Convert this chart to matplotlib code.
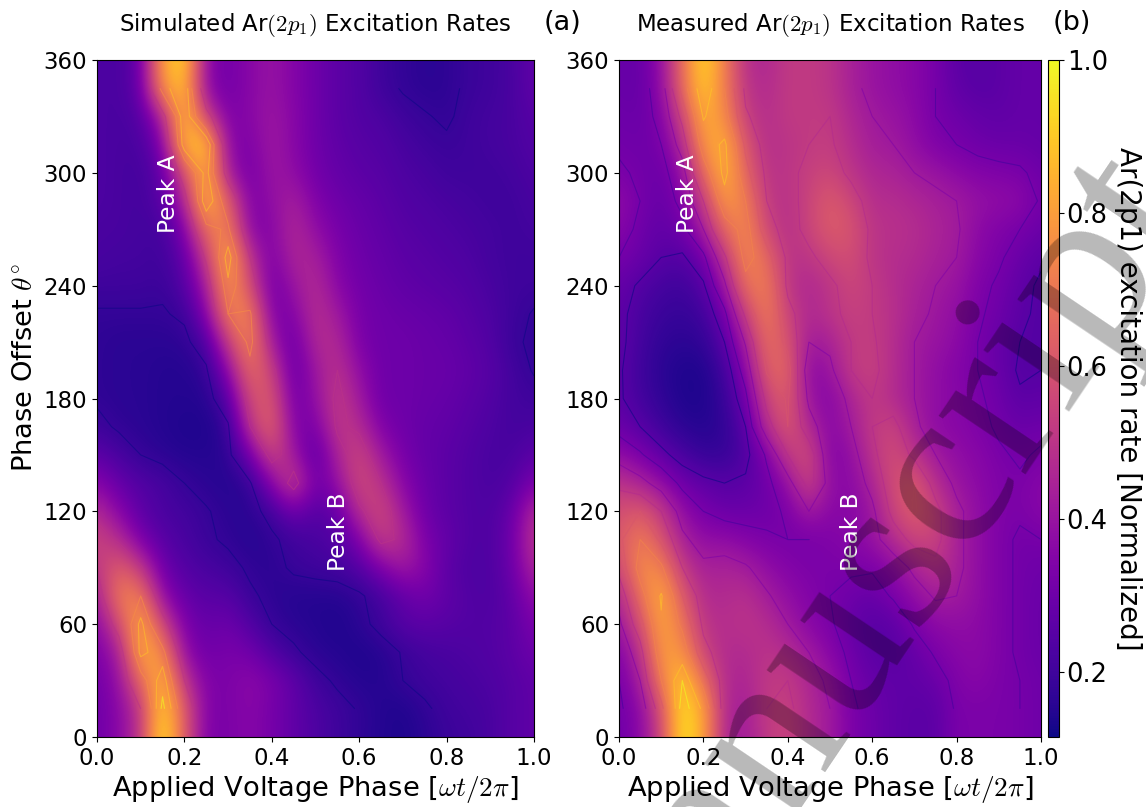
import numpy as np
import matplotlib
matplotlib.use("Agg")
import matplotlib.pyplot as plt

plt.rcParams['mathtext.fontset'] = 'cm'
plt.rcParams['font.family'] = 'DejaVu Sans'

phase = [0, .05, .1, .15, .2, .25, .3, .35, .4, .45, .5, .55, .6, .65, .7, .75, .8, .85, .9, .95, 1]
theta = list(range(0, 361, 15))

sim = [
 [.30,.36,.50,1.0,.62,.33,.33,.36,.32,.27,.23,.20,.17,.15,.14,.16,.19,.20,.22,.25,.27],
 [.30,.36,.50,.95,.62,.34,.33,.36,.32,.27,.23,.20,.175,.15,.14,.17,.20,.21,.22,.25,.27],
 [.31,.38,.66,.88,.50,.34,.33,.37,.33,.27,.20,.17,.15,.15,.18,.20,.21,.22,.23,.25,.27],
 [.33,.42,.85,.76,.38,.30,.33,.31,.24,.19,.16,.15,.14,.15,.185,.21,.22,.23,.24,.26,.30],
 [.36,.56,.85,.56,.33,.28,.30,.24,.18,.16,.15,.14,.16,.20,.25,.26,.25,.24,.24,.26,.33],
 [.42,.72,.72,.38,.28,.25,.25,.19,.165,.15,.15,.15,.17,.21,.27,.31,.27,.24,.23,.27,.38],
 [.50,.64,.52,.30,.24,.22,.20,.17,.16,.19,.20,.21,.24,.33,.42,.36,.26,.23,.23,.29,.46],
 [.55,.48,.33,.25,.22,.19,.17,.15,.17,.20,.22,.24,.33,.53,.48,.33,.28,.24,.23,.30,.50],
 [.47,.36,.26,.22,.21,.185,.16,.16,.20,.30,.24,.28,.48,.57,.42,.30,.26,.24,.23,.28,.47],
 [.36,.28,.24,.22,.18,.16,.15,.17,.35,.56,.30,.38,.57,.50,.36,.29,.26,.24,.22,.24,.33],
 [.26,.22,.18,.16,.15,.15,.16,.30,.56,.42,.24,.45,.56,.42,.32,.28,.26,.24,.22,.22,.26],
 [.20,.17,.16,.15,.14,.14,.17,.50,.66,.34,.32,.52,.48,.34,.30,.28,.27,.25,.23,.21,.22],
 [.17,.16,.16,.15,.15,.15,.24,.58,.62,.30,.38,.53,.42,.30,.30,.29,.28,.26,.24,.21,.20],
 [.17,.16,.16,.15,.15,.17,.36,.68,.55,.27,.41,.50,.38,.30,.30,.29,.29,.27,.25,.21,.175],
 [.17,.16,.16,.16,.165,.22,.52,.76,.42,.28,.47,.47,.33,.30,.30,.29,.28,.26,.24,.19,.17],
 [.175,.175,.175,.175,.19,.34,.72,.74,.33,.34,.49,.42,.32,.30,.29,.28,.27,.25,.23,.20,.175],
 [.20,.20,.20,.19,.24,.42,.80,.58,.30,.40,.48,.36,.31,.29,.27,.26,.25,.24,.22,.20,.20],
 [.22,.21,.21,.20,.27,.52,.87,.50,.32,.46,.44,.34,.30,.28,.26,.25,.24,.23,.21,.20,.20],
 [.22,.22,.21,.21,.33,.68,.74,.35,.35,.47,.38,.32,.29,.27,.25,.24,.23,.22,.21,.20,.21],
 [.23,.22,.21,.25,.44,.90,.64,.33,.38,.44,.34,.30,.28,.26,.24,.23,.22,.21,.20,.20,.22],
 [.23,.22,.21,.27,.58,.86,.42,.31,.41,.38,.31,.28,.26,.25,.23,.22,.20,.20,.20,.21,.23],
 [.23,.22,.22,.33,.88,.92,.36,.33,.42,.36,.30,.27,.25,.24,.22,.20,.19,.20,.21,.22,.24],
 [.23,.22,.24,.44,.90,.55,.33,.36,.41,.36,.30,.26,.24,.23,.20,.185,.17,.20,.21,.22,.25],
 [.23,.22,.28,.78,.90,.36,.31,.36,.40,.35,.30,.26,.24,.20,.175,.16,.165,.19,.20,.22,.27],
 [.23,.22,.28,.82,.95,.36,.31,.36,.40,.35,.30,.26,.24,.20,.175,.16,.165,.19,.20,.22,.27],
]

meas = [
 [.30,.36,.55,.98,.82,.45,.42,.52,.55,.47,.42,.33,.30,.27,.26,.26,.33,.33,.33,.32,.30],
 [.31,.36,.58,.97,.82,.46,.43,.52,.54,.47,.42,.33,.30,.27,.26,.26,.33,.33,.33,.32,.30],
 [.32,.42,.72,.92,.68,.47,.45,.52,.52,.46,.40,.32,.28,.27,.27,.29,.34,.36,.33,.32,.30],
 [.34,.48,.80,.78,.55,.47,.47,.50,.48,.42,.36,.30,.26,.25,.28,.33,.36,.37,.34,.31,.29],
 [.40,.58,.83,.70,.50,.48,.50,.48,.42,.36,.33,.28,.25,.26,.33,.37,.38,.37,.34,.31,.29],
 [.45,.68,.85,.62,.47,.47,.49,.43,.38,.35,.32,.30,.28,.33,.38,.43,.42,.38,.34,.31,.29],
 [.55,.76,.74,.52,.44,.45,.43,.38,.35,.33,.33,.33,.33,.37,.44,.50,.44,.38,.34,.31,.30],
 [.60,.72,.60,.44,.38,.38,.35,.33,.32,.32,.34,.36,.39,.47,.55,.55,.44,.38,.34,.31,.32],
 [.58,.62,.52,.38,.32,.29,.29,.30,.33,.42,.36,.36,.40,.55,.63,.55,.44,.38,.34,.33,.36],
 [.50,.45,.38,.30,.27,.25,.26,.30,.38,.56,.38,.36,.45,.58,.62,.48,.40,.37,.34,.33,.36],
 [.38,.33,.27,.22,.18,.18,.23,.33,.52,.58,.34,.38,.50,.58,.50,.42,.38,.36,.33,.31,.33],
 [.29,.25,.20,.16,.15,.17,.25,.48,.62,.46,.36,.42,.52,.55,.44,.37,.36,.34,.31,.29,.30],
 [.26,.21,.17,.14,.14,.18,.30,.55,.63,.40,.35,.45,.52,.47,.42,.38,.36,.33,.30,.26,.27],
 [.26,.20,.16,.14,.14,.20,.36,.63,.66,.36,.40,.52,.54,.48,.42,.38,.35,.32,.29,.24,.25],
 [.27,.21,.17,.16,.17,.25,.43,.68,.60,.42,.44,.52,.53,.48,.42,.40,.37,.32,.28,.25,.24],
 [.27,.22,.19,.18,.20,.30,.54,.72,.55,.46,.50,.54,.52,.49,.44,.41,.38,.33,.30,.26,.24],
 [.28,.24,.21,.20,.24,.40,.68,.72,.50,.46,.50,.56,.52,.48,.45,.42,.40,.34,.31,.27,.24],
 [.32,.29,.25,.24,.30,.50,.76,.66,.50,.50,.56,.58,.50,.48,.47,.44,.42,.36,.33,.29,.26],
 [.36,.30,.27,.30,.42,.66,.76,.56,.48,.55,.62,.60,.50,.49,.48,.45,.43,.37,.34,.32,.29],
 [.38,.32,.28,.34,.52,.80,.72,.52,.49,.55,.62,.56,.48,.48,.46,.44,.42,.39,.38,.37,.31],
 [.33,.31,.29,.38,.66,.87,.65,.50,.50,.54,.56,.50,.46,.45,.42,.40,.37,.35,.34,.33,.30],
 [.31,.30,.32,.46,.78,.86,.60,.48,.50,.52,.53,.48,.43,.42,.38,.34,.32,.30,.29,.29,.28],
 [.30,.29,.34,.55,.85,.76,.53,.48,.52,.52,.52,.46,.42,.40,.37,.32,.30,.28,.27,.28,.28],
 [.29,.28,.37,.66,.92,.72,.50,.47,.52,.52,.50,.44,.40,.38,.36,.32,.27,.25,.26,.28,.28],
 [.29,.28,.38,.67,.95,.72,.48,.46,.52,.52,.50,.44,.40,.38,.36,.32,.26,.25,.26,.28,.28],
]

xticks = [0.0, 0.2, 0.4, 0.6, 0.8, 1.0]
yticks = [0, 60, 120, 180, 240, 300, 360]
cticks = [0.2, 0.4, 0.6, 0.8, 1.0]
sim_levels = [.18, .5, .72, .82, .92]
meas_levels = [.25, .32, .42, .52, .62, .72, .84, .92]
titles = [r"Simulated Ar$(2p_1)$ Excitation Rates", r"Measured Ar$(2p_1)$ Excitation Rates"]
tags = ["(a)", "(b)"]
vmin, vmax = 0.115, 1.0

W, H = 1146, 807
fig = plt.figure(figsize=(W/100, H/100), dpi=100)
def rect(l, t, r, b):
    return [l/W, 1-b/H, (r-l)/W, (b-t)/H]
axes = [fig.add_axes(rect(97, 60, 534, 737)), fig.add_axes(rect(619, 60, 1041, 737))]
cax = fig.add_axes(rect(1048, 60, 1059, 737))

xs = np.array(phase); ys = np.array(theta)
dx = xs[1]-xs[0]; dy = ys[1]-ys[0]
ext = [xs[0]-dx/2, xs[-1]+dx/2, ys[0]-dy/2, ys[-1]+dy/2]
for i, (ax, data, lev) in enumerate(zip(axes, [sim, meas], [sim_levels, meas_levels])):
    Z = np.array(data)
    im = ax.imshow(Z, origin='lower', extent=ext, aspect='auto', cmap='plasma',
                   vmin=vmin, vmax=vmax, interpolation='bicubic')
    ax.contour(xs, ys[1:-1], Z[1:-1], levels=lev, cmap='plasma',
               linewidths=0.8, alpha=0.6)
    ax.set_xlim(0, 1); ax.set_ylim(0, 360)
    ax.set_xticks(xticks); ax.set_yticks(yticks)
    ax.tick_params(labelsize=16.5)
    ax.set_xlabel(r"Applied Voltage Phase [$\omega t/2\pi$]", fontsize=19.7, labelpad=3)
    ax.text(0.163, 289, "Peak A", color='w', rotation=90, fontsize=16.8, ha='center', va='center')
    ax.text(0.552, 109, "Peak B", color='w', rotation=90, fontsize=16.8, ha='center', va='center')

axes[0].set_ylabel(r"Phase Offset $\theta^{\circ}$", fontsize=19.7)
axes[0].yaxis.set_label_coords(-0.135, 0.545)
fig.text(315/W, 1-25/H, titles[0], fontsize=16.5, ha='center', va='center')
fig.text(830/W, 1-25/H, titles[1], fontsize=16.5, ha='center', va='center')
fig.text(562/W, 1-23/H, tags[0], fontsize=19.5, ha='center', va='center')
fig.text(1072/W, 1-23/H, tags[1], fontsize=19.5, ha='center', va='center')

cb = fig.colorbar(im, cax=cax, ticks=cticks)
cb.ax.tick_params(labelsize=18.5, pad=2)
fig.text(1128/W, 1-399/H, "Ar(2p1) excitation rate [Normalized]", rotation=270, fontsize=20,
         ha='center', va='center')

fig.text(862/W, 1-610/H, "Manuscript", color='k', alpha=0.28, rotation=56, fontsize=165,
         family='Liberation Serif', ha='center', va='center', rotation_mode='anchor', zorder=20)

fig.savefig("out.png", dpi=100)
